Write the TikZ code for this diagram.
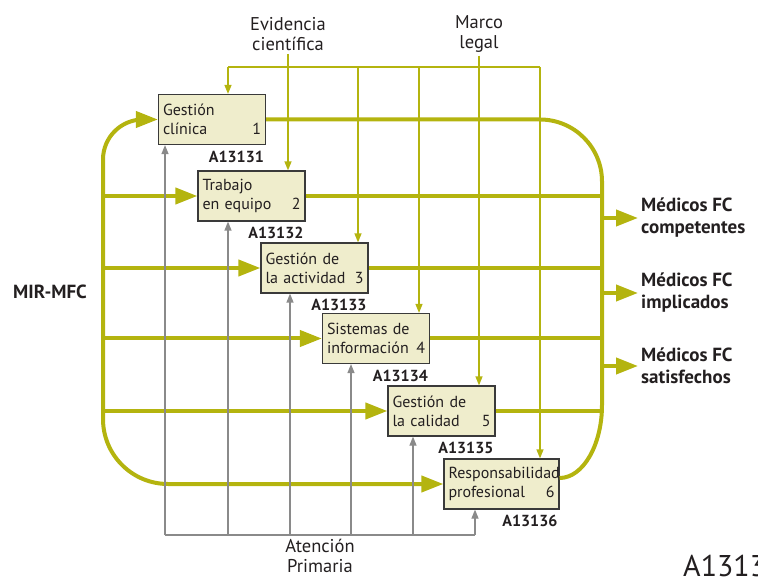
\documentclass[tikz,border=0pt]{standalone}
\usepackage{fontspec}
\setmainfont{PT Sans}
\usetikzlibrary{arrows.meta}

% number pushed to the right edge of a box line
\newcommand{\boxnum}[1]{\hskip 0pt plus 1filll #1}

\begin{document}
\begin{tikzpicture}[
    x=1pt, y=-1pt,
    every node/.style={align=center, text=textcolor},
    procbox/.style={draw=boxline, fill=boxfill, line width=1.2pt,
        minimum width=107pt, minimum height=50pt, text width=98pt,
        inner xsep=4.5pt, inner ysep=0pt, align=left,
        font=\fontsize{16}{19}\selectfont},
    idlabel/.style={anchor=base east, inner sep=0pt,
        font=\fontsize{16}{19}\selectfont\bfseries},
    outlabel/.style={align=left, inner sep=3pt,
        font=\fontsize{19}{22}\selectfont\bfseries},
    toplabel/.style={inner sep=3pt, font=\fontsize{18.5}{20}\selectfont},
    mainflow/.style={line width=4pt, color=olivecolor},
    ctrlflow/.style={line width=1.3pt, color=olivecolor},
    inflow/.style={line width=1.2pt, color=graycolor},
    bigtip/.style={-{Triangle[length=22pt, width=16pt]}},
    smalltip/.style={-{Triangle[length=9pt, width=7pt]}},
]

% Colors
\definecolor{olivecolor}{HTML}{B4B40F}
\definecolor{boxfill}{HTML}{EFEDCC}
\definecolor{boxline}{HTML}{3A3A3A}
\definecolor{graycolor}{HTML}{8A8A8A}
\definecolor{textcolor}{HTML}{231F20}

\useasboundingbox (0,0) rectangle (758,577);
\clip (0,0) rectangle (758,577);

% Process boxes
\node[procbox] (gclin) at (212,119.5) {Gestión\\clínica\boxnum{1}};
\node[procbox] (trab) at (251.5,196) {Trabajo\\en equipo\boxnum{2}};
\node[procbox] (gact) at (314.5,268) {Gestión de\\la actividad\boxnum{3}};
\node[procbox] (sinf) at (376,338.5) {Sistemas de\\información\boxnum{4}};
\node[procbox] (gcal) at (441.5,411) {Gestión de\\la calidad\boxnum{5}};
\node[procbox, minimum width=115pt, text width=106pt] (resp) at (501.5,484) {Responsabilidad\\profesional\boxnum{6}};

% Box codes
\node[idlabel] at ([xshift=-2pt, yshift=-17pt]gclin.south east) {A13131};
\node[idlabel] at ([xshift=-2pt, yshift=-17pt]trab.south east) {A13132};
\node[idlabel] at ([xshift=-2pt, yshift=-17pt]gact.south east) {A13133};
\node[idlabel] at ([xshift=-2pt, yshift=-17pt]sinf.south east) {A13134};
\node[idlabel] at ([xshift=-2pt, yshift=-17pt]gcal.south east) {A13135};
\node[idlabel] at ([xshift=-2pt, yshift=-17pt]resp.south east) {A13136};

% Outside labels
\node[outlabel] (mir) at (50,292) {MIR-MFC};
\node[outlabel, anchor=west] (comp) at (638,218) {Médicos FC\\competentes};
\node[outlabel, anchor=west] (impl) at (638,293) {Médicos FC\\implicados};
\node[outlabel, anchor=west] (satis) at (638,366) {Médicos FC\\satisfechos};
\node[toplabel] (evid) at (288,34) {Evidencia\\científica};
\node[toplabel] (marco) at (479,34) {Marco\\legal};
\node[toplabel] (aprim) at (320,556) {Atención\\Primaria};
\node[anchor=base west, inner sep=0pt, font=\fontsize{30}{32}\selectfont] (figid) at (683,576) {A1313};

% Main flow: input side
\coordinate (lbus) at (103,300);
\coordinate (rbus) at (602,300);
\draw[mainflow, bigtip, rounded corners=40pt] (lbus) |- (gclin.west);
\draw[mainflow, bigtip, rounded corners=65pt] (lbus) |- (resp.west);
\foreach \b in {trab, gact, sinf, gcal}
    \draw[mainflow, bigtip] (lbus |- \b.west) -- (\b.west);

% Main flow: output side
\draw[mainflow, rounded corners=62pt] (gclin.east) -| (rbus);
\foreach \b in {trab, gact, sinf, gcal}
    \draw[mainflow] (\b.east) -- (rbus |- \b.east);
\draw[mainflow] (rbus) -- (602,405) .. controls (602,445) and (583,478) .. ([yshift=6pt]resp.east);
\foreach \o in {comp, impl, satis}
    \draw[mainflow, bigtip] (rbus |- \o.west) -- (\o.west);

% Controls from above
\coordinate (cbusL) at (228,67);
\coordinate (cbusR) at (540,67);
\draw[ctrlflow] (cbusL) -- (cbusR);
\foreach \x/\b in {228/gclin, 358/gact, 419/sinf, 540/resp}
    \draw[ctrlflow, smalltip] (\x,67) -- (\b.north -| \x,0);
\draw[ctrlflow, smalltip] (evid.south) -- (evid.south |- trab.north);
\draw[ctrlflow, smalltip] (marco.south) -- (marco.south |- gcal.north);

% Resources from below
\coordinate (ibusL) at (165,535);
\coordinate (ibusR) at (475,535);
\draw[inflow] (ibusL) -- (ibusR);
\foreach \x/\b in {165/gclin, 228/trab, 290/gact, 351/sinf, 413/gcal, 475/resp}
    \draw[inflow, smalltip] (\x,535) -- (\b.south -| \x,0);

\end{tikzpicture}
\end{document}
